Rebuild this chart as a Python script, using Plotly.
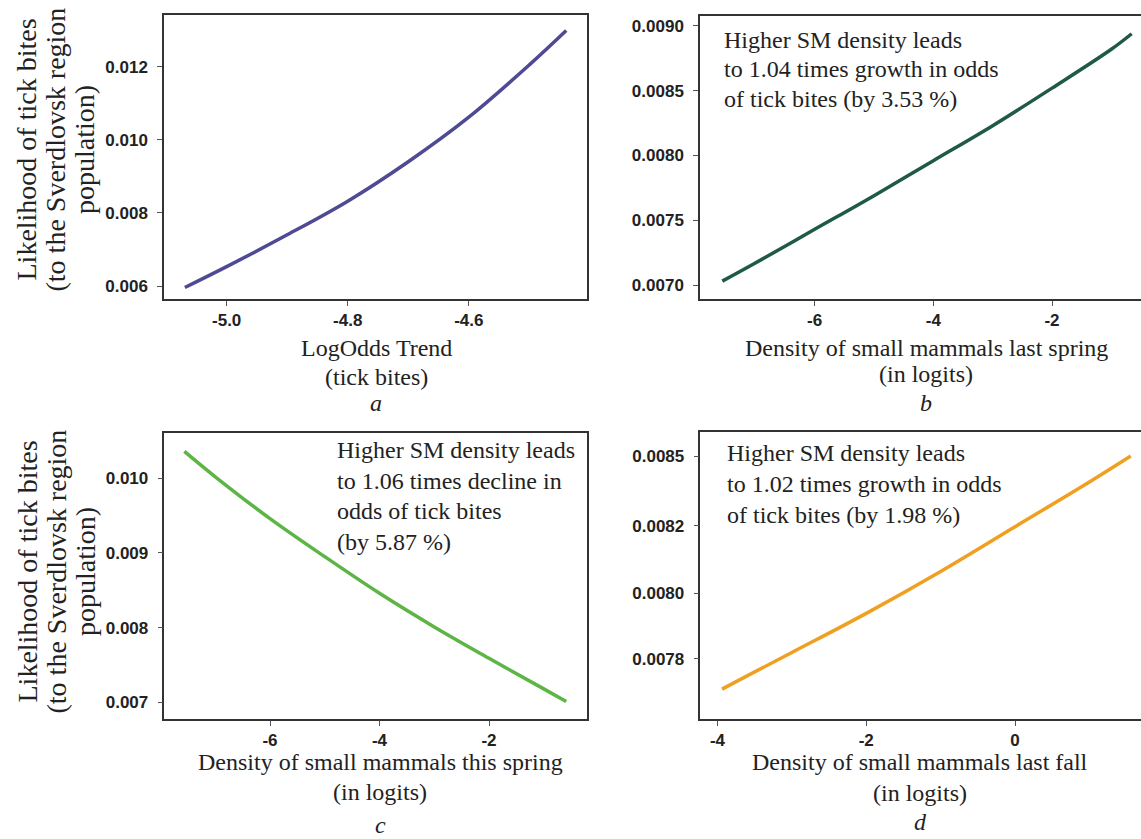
import plotly.graph_objects as go

# ---------------- data ----------------
a_x = [-5.069, -5.0, -4.9, -4.8, -4.7, -4.6, -4.5, -4.439]
a_y = [0.00596, 0.00653, 0.00740, 0.00832, 0.00940, 0.01062, 0.01205, 0.01299]

b_x = [-7.557, -7, -6, -5, -4, -3, -2, -1, -0.657]
b_y = [0.00703, 0.00717, 0.00743, 0.00769, 0.00796, 0.00823, 0.00852, 0.00882, 0.00894]

c_x = [-7.565, -7, -6, -5, -4, -3, -2, -1, -0.59]
c_y = [0.01036, 0.01002, 0.00946, 0.00895, 0.00846, 0.00801, 0.00759, 0.00718, 0.00701]

d_x = [-3.94, -3, -2, -1, 0, 1, 1.556]
d_y = [0.007659, 0.00779, 0.00793, 0.00808, 0.00824, 0.00840, 0.008493]

a_xticks = [-5.0, -4.8, -4.6]
a_yticks = [0.006, 0.008, 0.010, 0.012]
b_xticks = [-6, -4, -2]
b_yticks = [0.0070, 0.0075, 0.0080, 0.0085, 0.0090]
c_xticks = [-6, -4, -2]
c_yticks = [0.007, 0.008, 0.009, 0.010]
d_xticks = [-4, -2, 0]
# panel d ticks sit at evenly spaced logits; labels are their rounded probabilities
d_yticks = [0.007767, 0.008002, 0.008244, 0.008493]

colors = {"a": "#4f4a94", "b": "#1f5a44", "c": "#5cb544", "d": "#f0a020"}

W, H = 1141, 839
SERIF = "Liberation Serif, Times New Roman, serif"
SANS = "Liberation Sans, Arial, sans-serif"

fig = go.Figure()

def px_dom_x(x0, x1):
    return [x0 / W, min(x1 / W, 1.0)]

def px_dom_y(top, bottom):
    return [1 - bottom / H, 1 - top / H]

panels = [
    ("a", a_x, a_y, "", (164, 587, 15, 299.3), [-5.1035, -4.4047], [0.005636, 0.013414], a_xticks, a_yticks, ".1f", ".3f", True),
    ("b", b_x, b_y, "2", (700, 1141, 16, 299.3), [-7.933, -0.50], [0.00689, 0.009077], b_xticks, b_yticks, "d", ".4f", False),
    ("c", c_x, c_y, "3", (164.4, 587, 433.3, 719), [-7.929, -0.21], [0.006777, 0.010602], c_xticks, c_yticks, "d", ".3f", True),
    ("d", d_x, d_y, "4", (700.4, 1141, 432, 719), [-4.23, 1.694], [0.007552, 0.008579], d_xticks, d_yticks, "d", ".4f", False),
]

layout = dict(
    width=W, height=H, margin=dict(l=0, r=0, t=0, b=0),
    paper_bgcolor="white", plot_bgcolor="white", showlegend=False,
)

for name, xs, ys, sid, (l, r, t, b), xr, yr, xt, yt, xf, yf, closed in panels:
    fig.add_trace(go.Scatter(x=xs, y=ys, mode="lines", line=dict(color=colors[name], width=3.5, shape="spline"),
                             xaxis="x" + sid, yaxis="y" + sid, hoverinfo="skip"))
    xlabels = [("%d" % v if xf == "d" else format(v, xf)) for v in xt]
    ylabels = [format(v, yf) for v in yt]
    layout["xaxis" + sid] = dict(
        domain=px_dom_x(l, r), range=xr, anchor="y" + sid, showgrid=False, zeroline=False,
        showline=True, linecolor="#333", linewidth=1.5, mirror=True,
        ticks="outside", ticklen=5, tickwidth=1, tickcolor="#555",
        tickvals=xt, ticktext=xlabels, ticklabelstandoff=0,
        tickfont=dict(family=SANS, size=17, color="#222", weight="bold"),
    )
    layout["yaxis" + sid] = dict(
        domain=px_dom_y(t, b), range=yr, anchor="x" + sid, showgrid=False, zeroline=False,
        showline=True, linecolor="#333", linewidth=1.5, mirror=closed,
        ticks="outside", ticklen=5, tickwidth=1, tickcolor="#555",
        tickvals=yt, ticktext=ylabels, ticklabelstandoff=6,
        tickfont=dict(family=SANS, size=17, color="#222", weight="bold"),
    )

fig.update_layout(**layout)

ann = []

def txt(text, x, y, size=24, italic=False, angle=0, xanchor="center"):
    ann.append(dict(text=("<i>%s</i>" % text) if italic else text, x=x / W, y=1 - y / H, xref="paper", yref="paper",
                    showarrow=False, xanchor=xanchor, yanchor="middle", textangle=angle,
                    font=dict(family=SERIF, size=size, color="#222")))

# y-axis titles (a and c)
ytitle = ["Likelihood of tick bites", "(to the Sverdlovsk region", "population)"]
for cy in (150, 572):
    for xx, line in zip((26.5, 55.5, 85), ytitle):
        txt(line, xx, cy, size=28, angle=-90)

# x-axis titles
txt("LogOdds Trend", 376, 348)
txt("(tick bites)", 376, 377)
txt("a", 376, 403, italic=True)

txt("Density of small mammals last spring", 926, 348)
txt("(in logits)", 926, 374)
txt("b", 926, 403, italic=True)

txt("Density of small mammals this spring", 380, 762)
txt("(in logits)", 380, 792)
txt("c", 380, 825, italic=True)

txt("Density of small mammals last fall", 920, 762)
txt("(in logits)", 920, 793)
txt("d", 920, 822, italic=True)

# in-panel notes
for i, line in enumerate(["Higher SM density leads", "to 1.04 times growth in odds", "of tick bites (by 3.53 %)"]):
    txt(line, 722, 39.5 + 30 * i, xanchor="left")
for i, line in enumerate(["Higher SM density leads", "to 1.06 times decline in", "odds of tick bites", "(by 5.87 %)"]):
    txt(line, 335, 450 + 30.5 * i, xanchor="left")
for i, line in enumerate(["Higher SM density leads", "to 1.02 times growth in odds", "of tick bites (by 1.98 %)"]):
    txt(line, 724.5, 453 + 31 * i, xanchor="left")

fig.update_layout(annotations=ann)
fig.write_html("out.html", config={"displayModeBar": False},
               post_script="document.body.style.margin='0';document.body.style.padding='0';document.body.style.overflow='hidden';")
